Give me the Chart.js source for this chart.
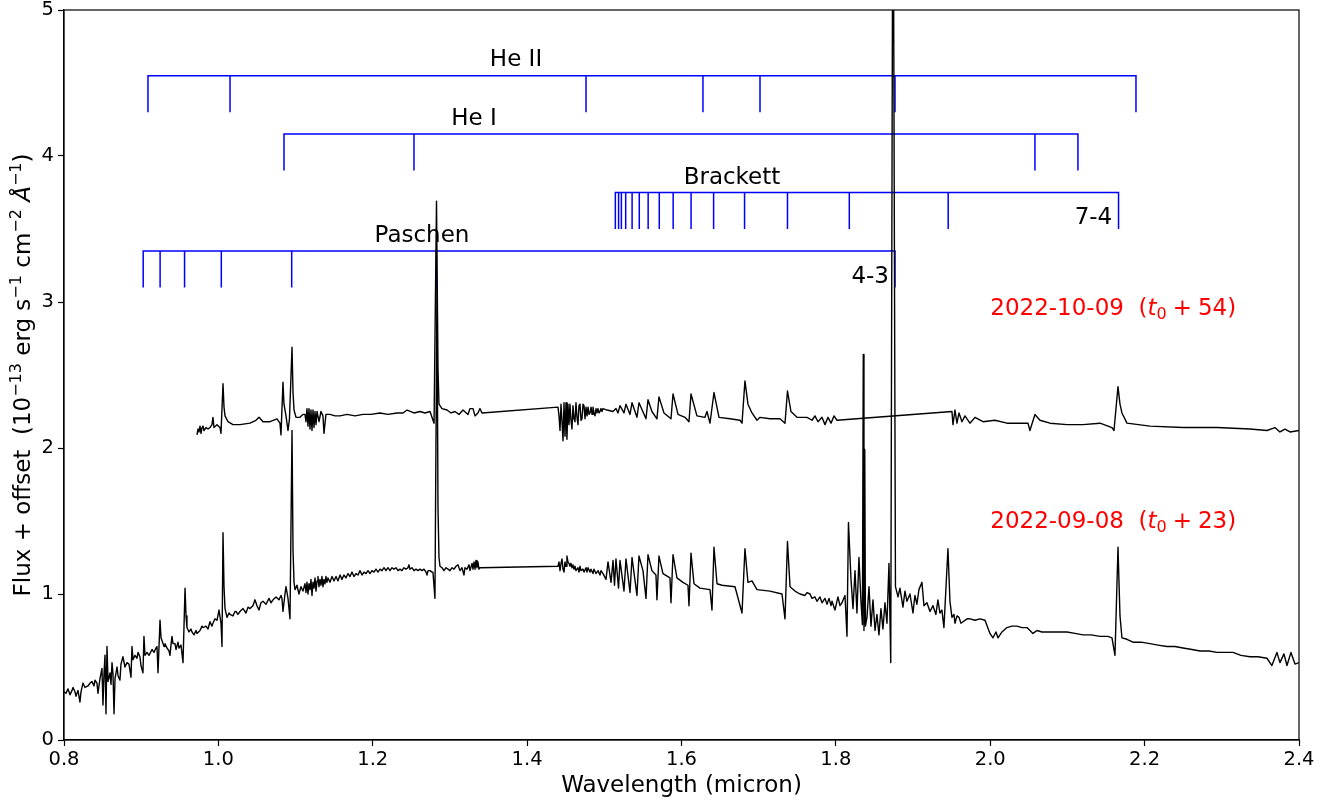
<!DOCTYPE html>
<html>
<head>
<meta charset="utf-8">
<title>Near-infrared spectra</title>
<script src="https://cdn.jsdelivr.net/npm/chart.js@4.4.1/dist/chart.umd.min.js"></script>
<style>
    html, body { margin: 0; padding: 0; background: #fff; }
    #wrap { width: 1340px; height: 805px; }
</style>
</head>
<body>
<div id="wrap"><canvas id="spectraChart" width="1340" height="805"></canvas></div>
<script>
// [wavelength (micron), flux + offset]
const spectrum0908 = [
    [0.8000,0.33],[0.8026,0.32],[0.8052,0.35],[0.8078,0.31],[0.8104,0.34],[0.8117,0.36],[0.8142,0.33],[0.8155,0.30],
    [0.8181,0.34],[0.8207,0.26],[0.8220,0.33],[0.8246,0.39],[0.8272,0.36],[0.8311,0.37],[0.8337,0.39],[0.8363,0.40],
    [0.8389,0.37],[0.8402,0.41],[0.8427,0.39],[0.8440,0.32],[0.8466,0.42],[0.8492,0.49],[0.8505,0.24],[0.8518,0.45],
    [0.8531,0.58],[0.8544,0.18],[0.8557,0.64],[0.8570,0.40],[0.8596,0.46],[0.8609,0.38],[0.8622,0.53],[0.8635,0.45],
    [0.8648,0.18],[0.8661,0.42],[0.8687,0.50],[0.8700,0.44],[0.8725,0.41],[0.8738,0.52],[0.8764,0.57],[0.8790,0.50],
    [0.8816,0.53],[0.8842,0.52],[0.8868,0.43],[0.8881,0.64],[0.8894,0.55],[0.8920,0.58],[0.8946,0.56],[0.8959,0.60],
    [0.8984,0.57],[0.8997,0.51],[0.9023,0.46],[0.9036,0.71],[0.9049,0.58],[0.9075,0.60],[0.9101,0.58],[0.9140,0.62],
    [0.9166,0.60],[0.9192,0.63],[0.9205,0.64],[0.9218,0.46],[0.9244,0.82],[0.9257,0.70],[0.9270,0.68],[0.9296,0.64],
    [0.9308,0.66],[0.9334,0.63],[0.9360,0.61],[0.9373,0.58],[0.9386,0.65],[0.9399,0.71],[0.9412,0.66],[0.9438,0.66],
    [0.9451,0.62],[0.9477,0.67],[0.9490,0.63],[0.9516,0.65],[0.9542,0.53],[0.9568,1.04],[0.9581,0.85],[0.9593,0.77],
    [0.9619,0.74],[0.9645,0.76],[0.9658,0.74],[0.9684,0.72],[0.9710,0.75],[0.9723,0.73],[0.9762,0.75],[0.9788,0.78],
    [0.9801,0.77],[0.9840,0.78],[0.9866,0.76],[0.9891,0.81],[0.9917,0.78],[0.9930,0.80],[0.9956,0.83],[0.9982,0.82],
    [1.0008,0.89],[1.0034,0.80],[1.0047,0.64],[1.0060,1.42],[1.0073,1.05],[1.0086,0.90],[1.0112,0.84],[1.0138,0.87],
    [1.0151,0.86],[1.0189,0.85],[1.0215,0.88],[1.0228,0.88],[1.0254,0.86],[1.0280,0.88],[1.0319,0.90],[1.0345,0.88],
    [1.0358,0.87],[1.0384,0.91],[1.0410,0.90],[1.0448,0.92],[1.0474,0.96],[1.0500,0.92],[1.0526,0.89],[1.0552,0.94],
    [1.0578,0.95],[1.0617,0.93],[1.0656,0.97],[1.0682,0.94],[1.0708,0.96],[1.0747,0.98],[1.0785,0.96],[1.0811,0.99],
    [1.0824,0.97],[1.0837,0.88],[1.0863,1.00],[1.0876,1.05],[1.0902,0.97],[1.0928,0.83],[1.0954,2.12],[1.0967,1.30],
    [1.0980,1.08],[1.0993,1.03],[1.1018,1.06],[1.1044,1.00],[1.1070,1.05],[1.1096,1.02],[1.1122,1.07],[1.1135,1.01],
    [1.1148,1.08],[1.1161,1.00],[1.1174,1.07],[1.1187,1.03],[1.1200,1.10],[1.1213,0.99],[1.1226,1.08],[1.1239,1.04],
    [1.1252,1.11],[1.1265,1.02],[1.1278,1.09],[1.1290,1.12],[1.1303,1.05],[1.1316,1.10],[1.1329,1.06],[1.1342,1.12],
    [1.1355,1.05],[1.1368,1.10],[1.1381,1.07],[1.1394,1.12],[1.1407,1.08],[1.1420,1.11],[1.1446,1.08],[1.1472,1.12],
    [1.1498,1.09],[1.1524,1.12],[1.1550,1.09],[1.1576,1.13],[1.1601,1.10],[1.1627,1.13],[1.1653,1.11],[1.1679,1.14],
    [1.1705,1.12],[1.1731,1.15],[1.1757,1.12],[1.1783,1.14],[1.1809,1.13],[1.1835,1.16],[1.1861,1.13],[1.1887,1.15],
    [1.1913,1.14],[1.1938,1.16],[1.1964,1.14],[1.1990,1.16],[1.2016,1.15],[1.2042,1.17],[1.2068,1.15],[1.2094,1.17],
    [1.2120,1.16],[1.2146,1.18],[1.2171,1.16],[1.2197,1.18],[1.2223,1.16],[1.2249,1.18],[1.2275,1.17],[1.2301,1.18],
    [1.2327,1.16],[1.2353,1.17],[1.2379,1.16],[1.2404,1.18],[1.2430,1.17],[1.2456,1.18],[1.2469,1.20],[1.2482,1.17],
    [1.2508,1.18],[1.2534,1.16],[1.2560,1.17],[1.2586,1.16],[1.2612,1.17],[1.2638,1.16],[1.2664,1.17],[1.2690,1.15],
    [1.2703,1.13],[1.2716,1.16],[1.2742,1.16],[1.2767,1.15],[1.2780,1.15],[1.2806,0.97],[1.2832,3.10],[1.2845,1.60],
    [1.2858,1.25],[1.2871,1.19],[1.2897,1.18],[1.2923,1.16],[1.2949,1.18],[1.2975,1.17],[1.3001,1.16],[1.3027,1.18],
    [1.3053,1.17],[1.3079,1.19],[1.3104,1.20],[1.3130,1.16],[1.3156,1.18],[1.3182,1.13],[1.3195,1.18],[1.3221,1.17],
    [1.3247,1.20],[1.3260,1.16],[1.3286,1.21],[1.3299,1.17],[1.3312,1.22],[1.3325,1.17],[1.3338,1.23],[1.3350,1.18],
    [1.3363,1.22],[1.3376,1.17],[1.3389,1.18],
    [1.4400,1.19],[1.4413,1.22],[1.4426,1.16],[1.4439,1.21],[1.4452,1.24],[1.4465,1.17],[1.4478,1.15],[1.4491,1.22],
    [1.4504,1.19],[1.4516,1.26],[1.4529,1.22],[1.4542,1.21],[1.4555,1.19],[1.4568,1.21],[1.4581,1.18],[1.4594,1.20],
    [1.4607,1.17],[1.4620,1.19],[1.4633,1.16],[1.4659,1.18],[1.4672,1.15],[1.4685,1.19],[1.4698,1.16],[1.4724,1.17],
    [1.4737,1.15],[1.4763,1.18],[1.4776,1.15],[1.4789,1.18],[1.4815,1.15],[1.4828,1.17],[1.4853,1.14],[1.4866,1.17],
    [1.4892,1.14],[1.4918,1.16],[1.4944,1.13],[1.4957,1.16],[1.4983,1.14],
    [1.5022,1.10],[1.5048,1.22],[1.5087,1.08],[1.5113,1.23],[1.5132,1.06],[1.5151,1.24],[1.5184,1.04],[1.5203,1.23],
    [1.5255,1.02],[1.5281,1.24],[1.5333,1.01],[1.5359,1.25],[1.5423,0.99],[1.5449,1.26],[1.5501,1.16],[1.5540,0.97],
    [1.5566,1.27],[1.5617,1.16],[1.5669,1.13],[1.5682,0.96],[1.5708,1.26],[1.5760,1.14],[1.5851,1.11],[1.5864,0.94],
    [1.5890,1.27],[1.5941,1.11],[1.6019,1.08],[1.6084,1.06],[1.6097,0.92],[1.6123,1.28],[1.6162,1.07],[1.6239,1.04],
    [1.6369,1.03],[1.6395,0.89],[1.6421,1.32],[1.6460,1.07],[1.6525,1.06],[1.6693,1.05],[1.6784,0.87],[1.6822,1.31],
    [1.6861,1.08],[1.6913,1.09],[1.6978,1.03],[1.7146,1.02],[1.7302,1.00],[1.7341,0.83],[1.7373,1.36],[1.7406,1.05],
    [1.7470,1.02],[1.7535,1.00],[1.7600,0.99],[1.7626,1.01],[1.7665,1.00],[1.7691,0.97],[1.7729,0.98],[1.7755,0.95],
    [1.7794,0.98],[1.7820,0.94],[1.7859,0.97],[1.7885,0.93],[1.7911,0.97],[1.7937,0.92],[1.7950,0.95],[1.7988,0.89],
    [1.8027,0.98],[1.8053,0.92],[1.8079,0.94],[1.8118,0.99],[1.8144,0.71],[1.8163,1.49],[1.8196,1.10],[1.8222,0.90],
    [1.8248,1.16],[1.8273,0.87],[1.8299,1.25],[1.8325,0.95],[1.8344,0.79],[1.8355,2.64],[1.8364,0.75],[1.8374,1.99],
    [1.8383,0.78],[1.8403,0.84],[1.8429,1.05],[1.8455,0.78],[1.8481,0.96],[1.8507,0.75],[1.8532,0.86],[1.8558,0.72],
    [1.8584,0.90],[1.8610,0.76],[1.8636,0.94],[1.8662,0.80],[1.8688,1.21],[1.8711,0.53],[1.8740,6.50],[1.8772,1.05],
    [1.8805,0.98],[1.8830,1.04],[1.8869,0.91],[1.8895,1.02],[1.8921,0.95],[1.8960,1.00],[1.8999,0.87],[1.9024,0.99],
    [1.9050,0.93],[1.9076,1.03],[1.9115,1.08],[1.9141,0.92],[1.9180,0.94],[1.9219,0.88],[1.9258,0.92],[1.9296,0.86],
    [1.9322,0.96],[1.9348,0.87],[1.9374,0.89],[1.9400,0.77],[1.9452,1.31],[1.9478,0.95],[1.9504,0.84],[1.9530,0.86],
    [1.9543,0.80],[1.9569,0.85],[1.9595,0.84],[1.9621,0.80],[1.9647,0.81],[1.9699,0.83],[1.9737,0.83],[1.9802,0.82],
    [1.9867,0.83],[1.9932,0.82],[1.9996,0.73],[2.0035,0.70],[2.0074,0.74],[2.0100,0.70],[2.0152,0.74],[2.0216,0.77],
    [2.0281,0.78],[2.0346,0.78],[2.0411,0.77],[2.0476,0.77],[2.0553,0.73],[2.0605,0.75],[2.0670,0.74],[2.0774,0.74],
    [2.0878,0.74],[2.0994,0.74],[2.1098,0.73],[2.1201,0.72],[2.1305,0.72],[2.1422,0.71],[2.1525,0.71],[2.1577,0.70],
    [2.1616,0.58],[2.1655,1.32],[2.1681,0.85],[2.1706,0.70],[2.1771,0.69],[2.1849,0.67],[2.1953,0.67],[2.2069,0.66],
    [2.2173,0.65],[2.2290,0.64],[2.2393,0.64],[2.2497,0.63],[2.2614,0.62],[2.2717,0.61],[2.2834,0.61],[2.2937,0.60],
    [2.3041,0.60],[2.3145,0.60],[2.3248,0.58],[2.3364,0.57],[2.3468,0.57],[2.3585,0.56],[2.3649,0.51],[2.3714,0.60],
    [2.3753,0.53],[2.3805,0.59],[2.3844,0.51],[2.3896,0.60],[2.3948,0.52],[2.4000,0.53]
];

const spectrum1009 = [
    [0.9723,2.09],[0.9736,2.13],[0.9749,2.11],[0.9762,2.15],[0.9775,2.10],[0.9788,2.14],[0.9801,2.15],[0.9814,2.12],
    [0.9840,2.14],[0.9866,2.13],[0.9891,2.14],[0.9917,2.16],[0.9930,2.21],[0.9943,2.14],[0.9982,2.16],[1.0021,2.14],
    [1.0034,2.10],[1.0060,2.44],[1.0073,2.28],[1.0086,2.22],[1.0125,2.18],[1.0189,2.16],[1.0280,2.16],[1.0410,2.17],
    [1.0487,2.19],[1.0526,2.21],[1.0578,2.18],[1.0669,2.18],[1.0759,2.20],[1.0798,2.17],[1.0811,2.09],[1.0837,2.45],
    [1.0850,2.30],[1.0876,2.22],[1.0902,2.12],[1.0921,2.20],[1.0954,2.69],[1.0967,2.38],[1.0980,2.26],[1.1006,2.21],
    [1.1057,2.21],[1.1096,2.23],[1.1122,2.23],[1.1135,2.18],[1.1148,2.27],[1.1161,2.15],[1.1174,2.27],[1.1187,2.13],
    [1.1200,2.26],[1.1213,2.12],[1.1226,2.26],[1.1239,2.14],[1.1252,2.25],[1.1265,2.16],[1.1278,2.25],[1.1304,2.18],
    [1.1329,2.25],[1.1355,2.22],[1.1368,2.10],[1.1394,2.23],[1.1446,2.23],[1.1511,2.22],[1.1576,2.22],[1.1666,2.23],
    [1.1770,2.22],[1.1874,2.23],[1.1977,2.23],[1.2094,2.24],[1.2197,2.23],[1.2314,2.24],[1.2392,2.24],[1.2444,2.26],
    [1.2534,2.24],[1.2612,2.25],[1.2677,2.24],[1.2742,2.25],[1.2794,2.17],[1.2826,3.69],[1.2845,2.55],[1.2858,2.30],
    [1.2897,2.27],[1.2962,2.26],[1.3014,2.24],[1.3065,2.25],[1.3117,2.23],[1.3169,2.26],[1.3234,2.23],[1.3260,2.27],
    [1.3299,2.27],[1.3325,2.22],[1.3363,2.24],[1.3389,2.27],[1.3415,2.24],
    [1.4400,2.28],[1.4413,2.22],[1.4426,2.12],[1.4439,2.30],[1.4452,2.18],[1.4465,2.05],[1.4478,2.31],[1.4491,2.08],
    [1.4504,2.31],[1.4516,2.06],[1.4529,2.30],[1.4542,2.16],[1.4555,2.30],[1.4568,2.19],[1.4581,2.13],[1.4594,2.29],
    [1.4607,2.20],[1.4620,2.18],[1.4633,2.31],[1.4646,2.21],[1.4659,2.16],[1.4672,2.29],[1.4685,2.30],[1.4698,2.19],
    [1.4711,2.20],[1.4724,2.30],[1.4737,2.29],[1.4750,2.20],[1.4763,2.28],[1.4776,2.22],[1.4789,2.28],[1.4802,2.23],
    [1.4815,2.24],[1.4828,2.28],[1.4841,2.23],[1.4853,2.28],[1.4866,2.24],[1.4879,2.22],[1.4892,2.27],[1.4905,2.24],
    [1.4918,2.27],[1.4931,2.24],[1.4944,2.25],[1.4957,2.27],[1.4970,2.25],[1.4983,2.27],[1.5035,2.26],[1.5112,2.25],
    [1.5151,2.27],[1.5177,2.24],[1.5203,2.29],[1.5255,2.24],[1.5281,2.30],[1.5333,2.23],[1.5359,2.31],[1.5423,2.21],
    [1.5449,2.31],[1.5540,2.20],[1.5566,2.33],[1.5617,2.25],[1.5682,2.20],[1.5708,2.35],[1.5773,2.24],[1.5864,2.20],
    [1.5890,2.37],[1.5955,2.23],[1.6045,2.21],[1.6097,2.18],[1.6123,2.37],[1.6200,2.22],[1.6304,2.21],[1.6330,2.25],
    [1.6369,2.17],[1.6421,2.38],[1.6486,2.21],[1.6628,2.20],[1.6758,2.19],[1.6784,2.17],[1.6822,2.46],[1.6861,2.30],
    [1.6913,2.24],[1.6978,2.19],[1.7017,2.21],[1.7146,2.20],[1.7276,2.20],[1.7341,2.17],[1.7373,2.39],[1.7418,2.25],
    [1.7496,2.21],[1.7626,2.21],[1.7691,2.19],[1.7729,2.22],[1.7768,2.18],[1.7820,2.21],[1.7859,2.16],[1.7898,2.21],
    [1.7937,2.17],[1.7976,2.22],[1.8014,2.19],
    [1.9504,2.25],[1.9517,2.16],[1.9543,2.26],[1.9569,2.17],[1.9595,2.24],[1.9634,2.18],[1.9672,2.22],[1.9737,2.17],
    [1.9802,2.21],[1.9906,2.18],[2.0061,2.19],[2.0216,2.17],[2.0489,2.17],[2.0514,2.12],[2.0579,2.23],[2.0644,2.19],
    [2.0774,2.17],[2.0994,2.16],[2.1201,2.16],[2.1422,2.17],[2.1577,2.14],[2.1603,2.12],[2.1655,2.42],[2.1681,2.30],
    [2.1706,2.24],[2.1771,2.17],[2.2069,2.15],[2.2497,2.14],[2.2937,2.14],[2.3364,2.13],[2.3585,2.12],[2.3688,2.14],
    [2.3753,2.11],[2.3818,2.13],[2.3883,2.11],[2.4000,2.12]
];

// line identifications (micron)
const heIILines = [0.9088, 1.0151, 1.4763, 1.6278, 1.7017, 1.8766, 2.1888];
const heILines = [1.0850, 1.2534, 2.0579, 2.1136];
const brackettLines = [1.5143, 1.5185, 1.5221, 1.5277, 1.5360, 1.5453, 1.5568, 1.5712, 1.5892,
                       1.6124, 1.6416, 1.6817, 1.7373, 1.8174, 1.9455, 2.1662];
const paschenLines = [0.9026, 0.9245, 0.9562, 1.0038, 1.0950, 1.2825, 1.8766];

// [bar level, tick bottom] for each marker comb
const heIILevel = [4.55, 4.30];
const heILevel = [4.15, 3.90];
const brackettLevel = [3.75, 3.50];
const paschenLevel = [3.35, 3.10];

const xTicks = [0.8, 1.0, 1.2, 1.4, 1.6, 1.8, 2.0, 2.2, 2.4];
const yTicks = [0, 1, 2, 3, 4, 5];

const seriesNames = [
    { text: 'He II', x: 1.3856, y: 4.66 },
    { text: 'He I', x: 1.3312, y: 4.25 },
    { text: 'Brackett', x: 1.6654, y: 3.85 },
    { text: 'Paschen', x: 1.2638, y: 3.45 }
];
const transitionNames = [
    { text: '7-4', x: 2.158, y: 3.575 },
    { text: '4-3', x: 1.8688, y: 3.17 }
];
const epochs = [
    { date: '2022-10-09', days: '54', x: 2.0, y: 2.97 },
    { date: '2022-09-08', days: '23', x: 2.0, y: 1.51 }
];

const FONT = '"DejaVu Sans", sans-serif';

const toPoints = (rows) => rows.map(r => ({ x: r[0], y: r[1] }));

// one polyline: the horizontal bar plus a drop line for every wavelength
const comb = (lines, level) => {
    const [top, bottom] = level;
    const first = lines[0];
    const last = lines[lines.length - 1];
    const pts = [
        { x: first, y: bottom }, { x: first, y: top },
        { x: last, y: top }, { x: last, y: bottom }, { x: last, y: null }
    ];
    lines.slice(1, -1).forEach(l => {
        pts.push({ x: l, y: top }, { x: l, y: bottom }, { x: l, y: null });
    });
    return pts;
};

const combDataset = (lines, level) => ({
    data: comb(lines, level),
    borderColor: '#0000ff',
    borderWidth: 1.5,
    pointRadius: 0,
    spanGaps: false,
    tension: 0,
    order: 2
});

const spectrumDataset = (rows) => ({
    data: toPoints(rows),
    borderColor: '#000000',
    borderWidth: 1.4,
    borderJoinStyle: 'round',
    pointRadius: 0,
    tension: 0,
    order: 1
});

// draws a run of [text, style] pieces left to right from x, returns the end x
const drawRuns = (ctx, runs, x, base, size) => {
    runs.forEach(([text, style]) => {
        if (style === 'sup') {
            ctx.font = `${Math.round(size * 0.7)}px ${FONT}`;
            ctx.fillText(text, x, base - 0.42 * size);
        } else if (style === 'sub') {
            ctx.font = `${Math.round(size * 0.7)}px ${FONT}`;
            ctx.fillText(text, x, base + 0.2 * size);
        } else if (style === 'it') {
            ctx.font = `italic ${size}px ${FONT}`;
            ctx.fillText(text, x, base);
        } else if (style === 'gap') {
            x += Number(text);
            return;
        } else {
            ctx.font = `${size}px ${FONT}`;
            ctx.fillText(text, x, base);
        }
        x += ctx.measureText(text).width;
    });
    return x;
};

const runsWidth = (ctx, runs, size) => {
    ctx.save();
    const w = drawRuns({
        set font(f) { ctx.font = f; },
        fillText() {},
        measureText: (t) => ctx.measureText(t)
    }, runs, 0, 0, size);
    ctx.restore();
    return w;
};

const yTitleRuns = [
    ['Flux + offset  (10', 'n'], ['\u221213', 'sup'], [' erg s', 'n'], ['\u22121', 'sup'],
    [' cm', 'n'], ['\u22122', 'sup'], [' ', 'n'], ['\u00C5', 'it'], ['\u22121', 'sup'], [')', 'n']
];

const textPlugin = {
    id: 'spectrumText',
    afterDraw(chart) {
        const { ctx, chartArea, scales } = chart;
        const px = v => scales.x.getPixelForValue(v);
        const py = v => scales.y.getPixelForValue(v);
        ctx.save();

        // full frame
        ctx.strokeStyle = '#000';
        ctx.lineWidth = 1.2;
        ctx.strokeRect(chartArea.left, chartArea.top,
            chartArea.right - chartArea.left, chartArea.bottom - chartArea.top);

        ctx.fillStyle = '#000';
        ctx.font = `23px ${FONT}`;
        ctx.textBaseline = 'middle';
        ctx.textAlign = 'center';
        seriesNames.forEach(s => ctx.fillText(s.text, px(s.x), py(s.y)));
        ctx.textAlign = 'right';
        transitionNames.forEach(s => ctx.fillText(s.text, px(s.x), py(s.y)));

        const size = 23;
        ctx.textAlign = 'left';
        ctx.textBaseline = 'alphabetic';

        // rotated y axis title
        const w = runsWidth(ctx, yTitleRuns, size);
        ctx.save();
        ctx.translate(22, (chartArea.top + chartArea.bottom) / 2);
        ctx.rotate(-Math.PI / 2);
        drawRuns(ctx, yTitleRuns, -w / 2, 0.36 * size, size);
        ctx.restore();

        // date labels with t_0 in math style
        ctx.fillStyle = '#ff0000';
        epochs.forEach(e => {
            const runs = [
                [e.date + '  (', 'n'], ['t', 'it'], ['0', 'sub'], ['6', 'gap'],
                ['+', 'n'], ['6', 'gap'], [e.days + ')', 'n']
            ];
            drawRuns(ctx, runs, px(e.x), py(e.y) + 0.36 * size, size);
        });
        ctx.restore();
    }
};

document.addEventListener('DOMContentLoaded', () => {
    const tickFont = { family: FONT, size: 19.5 };
    const titleFont = { family: FONT, size: 23 };
    const axisGrid = {
        display: true,
        drawOnChartArea: false,
        drawTicks: true,
        tickLength: 6,
        tickWidth: 1.2,
        color: '#000'
    };

    new Chart(document.getElementById('spectraChart'), {
        type: 'line',
        data: {
            datasets: [
                spectrumDataset(spectrum0908),
                spectrumDataset(spectrum1009),
                combDataset(heIILines, heIILevel),
                combDataset(heILines, heILevel),
                combDataset(brackettLines, brackettLevel),
                combDataset(paschenLines, paschenLevel)
            ]
        },
        options: {
            responsive: false,
            maintainAspectRatio: false,
            devicePixelRatio: 1,
            animation: false,
            layout: { padding: { left: 0, right: 41, top: 10, bottom: 0 } },
            plugins: {
                legend: { display: false },
                tooltip: { enabled: false }
            },
            scales: {
                x: {
                    type: 'linear',
                    min: xTicks[0],
                    max: xTicks[xTicks.length - 1],
                    afterFit: (scale) => {
                        scale.height = 65;
                        scale.paddingLeft = 0;
                        scale.paddingRight = 0;
                    },
                    afterBuildTicks: (scale) => { scale.ticks = xTicks.map(v => ({ value: v })); },
                    ticks: {
                        callback: (v) => Number(v).toFixed(1),
                        font: tickFont,
                        color: '#000',
                        padding: 2,
                        maxRotation: 0,
                        autoSkip: false
                    },
                    grid: axisGrid,
                    border: { display: true, color: '#000', width: 1.2 },
                    title: {
                        display: true,
                        text: 'Wavelength (micron)',
                        font: titleFont,
                        color: '#000',
                        padding: { top: 0, bottom: 5 }
                    }
                },
                y: {
                    type: 'linear',
                    min: yTicks[0],
                    max: yTicks[yTicks.length - 1],
                    afterFit: (scale) => {
                        scale.width = 64;
                        scale.paddingTop = 0;
                        scale.paddingBottom = 0;
                    },
                    afterBuildTicks: (scale) => { scale.ticks = yTicks.map(v => ({ value: v })); },
                    ticks: {
                        callback: (v) => String(v),
                        font: tickFont,
                        color: '#000',
                        padding: 4
                    },
                    grid: axisGrid,
                    border: { display: true, color: '#000', width: 1.2 },
                    title: { display: false }
                }
            }
        },
        plugins: [textPlugin]
    });
});
</script>
</body>
</html>
